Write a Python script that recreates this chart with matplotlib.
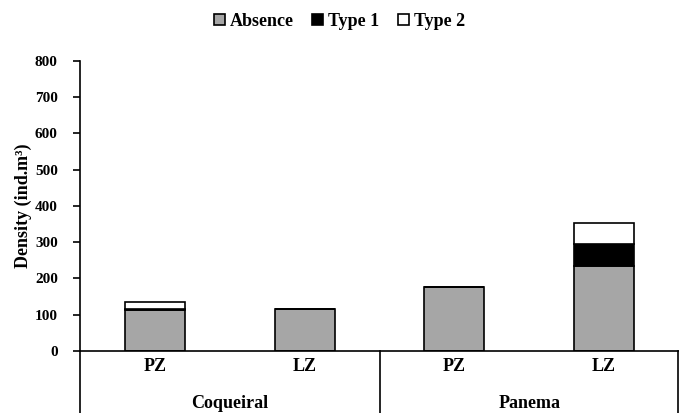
import numpy as np
import matplotlib
matplotlib.use('Agg')
import matplotlib.pyplot as plt
import matplotlib.transforms as mtransforms

# dados
zonas = ['PZ', 'LZ', 'PZ', 'LZ']
locais = ['Coqueiral', 'Panema']
absence = [112, 115, 177, 233]
type1 = [3, 0, 0, 61]
type2 = [21, 0, 0, 60]

plt.rcParams['font.family'] = ['Liberation Serif', 'DejaVu Serif']
plt.rcParams['font.weight'] = 'bold'

fig = plt.figure(figsize=(6.79, 4.13), dpi=100)
ax = fig.add_axes([80 / 679, 62 / 413, 599 / 679, 290.3 / 413])

x = np.arange(len(zonas))
larg = 0.4
b1 = np.array(absence)
b2 = b1 + np.array(type1)

ax.bar(x, absence, larg, color='#a6a6a6', edgecolor='black', linewidth=1.2, label='Absence')
ax.bar(x, type1, larg, bottom=b1, color='black', edgecolor='black', linewidth=1.2, label='Type 1')
ax.bar(x, type2, larg, bottom=b2, color='white', edgecolor='black', linewidth=1.2, label='Type 2')

ax.set_xlim(-0.5, 3.5)
ax.set_ylim(0, 800)
ax.set_yticks(np.arange(0, 801, 100))
ax.tick_params(axis='y', direction='out', length=5, width=1.2, labelsize=11, pad=11)
ax.tick_params(axis='x', length=0, labelbottom=False)
for s in ['top', 'right']:
    ax.spines[s].set_visible(False)
ax.spines['left'].set_linewidth(1.2)
ax.spines['bottom'].set_linewidth(1.2)

ax.set_ylabel('Density (ind.m³)', fontsize=13, fontweight='bold', labelpad=2)

# rótulos de categoria
trans = mtransforms.blended_transform_factory(ax.transData, ax.transAxes)
for xi, z in zip(x, zonas):
    ax.text(xi, -0.055, z, transform=trans, ha='center', va='center', fontsize=13, fontweight='bold')
for i, loc in enumerate(locais):
    ax.text(2 * i + 0.5, -0.18, loc, transform=trans, ha='center', va='center', fontsize=13, fontweight='bold')

# linhas divisórias
for xs in [-0.5, 1.5, 3.49]:
    ax.plot([xs, xs], [0, -0.25], transform=trans, color='black', linewidth=1.2, clip_on=False)

fig.legend(loc='upper center', bbox_to_anchor=(0.5, 1.0), ncol=3, frameon=False,
           fontsize=13, handlelength=0.6, handleheight=0.6, handletextpad=0.3,
           columnspacing=1.0, borderaxespad=0.3)

fig.savefig('out.png', dpi=100)
